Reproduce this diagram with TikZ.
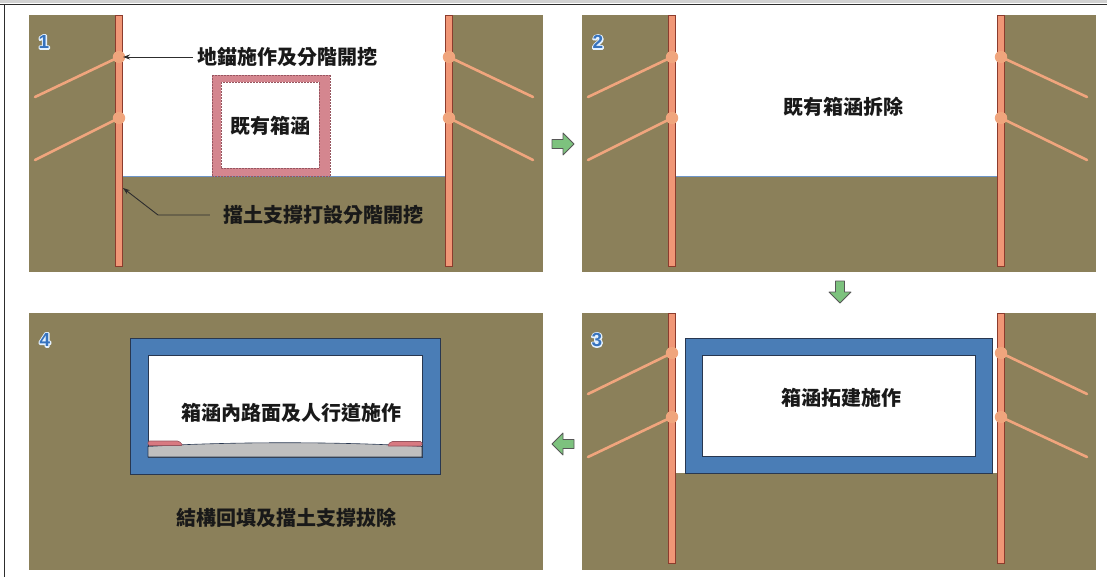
\documentclass[tikz,border=0pt]{standalone}
\usepackage{fontspec}
\newfontfamily\cjk{Noto Sans CJK TC}
\newfontfamily\numfont{Liberation Sans}
\usetikzlibrary{arrows.meta}
\definecolor{soilc}{RGB}{139,128,90}
\definecolor{wallc}{RGB}{240,150,118}
\definecolor{walledge}{RGB}{140,60,45}
\definecolor{anchorc}{RGB}{240,165,125}
\definecolor{boxblue}{RGB}{74,125,182}
\definecolor{boxedge}{RGB}{40,55,80}
\definecolor{oldbox}{RGB}{212,134,143}
\definecolor{oldedge}{RGB}{150,85,95}
\definecolor{arrowgreen}{RGB}{125,194,126}
\definecolor{digitblue}{RGB}{55,115,190}
\definecolor{grounde}{RGB}{110,150,200}
\definecolor{textc}{RGB}{25,25,25}
\definecolor{leadc}{RGB}{45,45,45}
\tikzset{
  soil/.style={fill=soilc},
  wall/.style={fill=wallc, draw=walledge, line width=0.8pt},
  tieback/.style={draw=anchorc, line width=2.6pt, line cap=round},
  knob/.style={fill=anchorc},
  culvert/.style={fill=boxblue, draw=boxedge, line width=1pt},
  hollow/.style={fill=white, draw=boxedge, line width=0.9pt},
  label/.style={font=\cjk\bfseries\fontsize{20}{20}\selectfont, text=textc, inner sep=0pt},
  stepmark/.style={font=\numfont\bfseries\fontsize{19}{19}\selectfont, text=digitblue, inner sep=0pt},
  leader/.style={draw=leadc, line width=0.9pt, -{Stealth[length=7pt,width=5pt]}},
  garrow/.pic={\draw[fill=arrowgreen, draw=leadc!80, line width=0.8pt, line join=round]
     (-11,-4.5) -- (0,-4.5) -- (0,-11) -- (11,0) -- (0,11) -- (0,4.5) -- (-11,4.5) -- cycle;},
}
% step number: light stroked rim under a blue filled digit
\newcommand{\haloed}[1]{%
  \rlap{\special{pdf:literal direct q 1 Tr 0.9 0.95 1 RG 2.6 w 1 j}#1\special{pdf:literal direct Q}}#1}
% retaining wall with two tiebacks; #1 wall x, #2 top, #3 bottom, #4/#5 anchor y, #6 tieback end x, #7/#8 tieback end y
\newcommand{\retwall}[8]{%
  \draw[tieback] (#1,#4) -- (#6,#7);
  \draw[tieback] (#1,#5) -- (#6,#8);
  \draw[wall] (#1-3.5,#2) rectangle (#1+3.5,#3);
  \fill[knob] (#1,#4) circle (6.2);
  \fill[knob] (#1,#5) circle (6.2);}
\begin{document}
\begin{tikzpicture}[x=1pt,y=-1pt]
\useasboundingbox (0,0) rectangle (1107,577);
\fill[white] (0,0) rectangle (1107,577);
% outer frame
\fill[gray!35] (0,0) rectangle (1107,3.5);
\draw[leadc, line width=1.6pt] (0,4.5) -- (1107,4.5);
\draw[leadc, line width=1.6pt] (4.5,4.5) -- (4.5,577);

% ---------- stage 1 ----------
\fill[soil] (29,15) rectangle (543,272);
\fill[white] (119,15) rectangle (449,176);
\draw[grounde, line width=0.7pt] (119,176) -- (449,176);
\draw[fill=oldbox, draw=oldedge, densely dotted, line width=0.5pt] (212,75) rectangle (330,176);
\draw[fill=white, draw=oldedge, densely dotted, line width=0.5pt] (221,82) rectangle (319,168);
\node[label] (old) at (270,126) {既有箱涵};
\retwall{119}{15}{266}{57}{118}{35}{97}{160}
\retwall{449}{15}{266}{57}{118}{533}{97}{160}
\node[label] (anc) at (287,57) {地錨施作及分階開挖};
\coordinate (ancTip) at (123,57);
\draw[leader] (anc.west) ++(-4,0) -- (ancTip);
\node[label] (sheet) at (323,215) {擋土支撐打設分階開挖};
\coordinate (sheetBend) at (158,215);
\coordinate (sheetTip) at (123,188);
\draw[leader] ([xshift=-13pt]sheet.west) -- (sheetBend) -- (sheetTip);
\node[stepmark] (n1) at (44,42) {\haloed{1}};

% ---------- stage 2 ----------
\fill[soil] (582,15) rectangle (1096,272);
\fill[white] (672,15) rectangle (1001,176);
\draw[grounde, line width=0.7pt] (672,176) -- (1001,176);
\node[label] (demo) at (843,107) {既有箱涵拆除};
\retwall{672}{15}{266}{57}{118}{588}{97}{160}
\retwall{1001}{15}{266}{57}{118}{1087}{97}{160}
\node[stepmark] (n2) at (598,42) {\haloed{2}};

% ---------- stage 3 ----------
\fill[soil] (582,313) rectangle (1096,570);
\fill[white] (672,313) rectangle (1001,473);
\draw[culvert] (685,338) rectangle (992,473);
\draw[hollow] (702,355) rectangle (975,456);
\node[label] (build) at (841,398) {箱涵拓建施作};
\retwall{672}{313}{563}{353}{417}{588}{394}{457}
\retwall{1001}{313}{563}{353}{417}{1087}{394}{457}
\node[stepmark] (n3) at (597,340) {\haloed{3}};

% ---------- stage 4 ----------
\fill[soil] (29,313) rectangle (543,570);
\draw[culvert] (130,338) rectangle (440,474);
\draw[hollow] (148,355) rectangle (422,457);
% road pavement with a slight crown
\draw[fill=gray!50, draw=boxedge, line width=0.6pt]
  (148,446.5) .. controls (230,441.5) and (340,441.5) .. (422,446.5) -- (422,457) -- (148,457) -- cycle;
% sidewalk strips
\draw[fill=oldbox!90!red, draw=oldedge, line width=0.6pt, rounded corners=1.5pt]
  (148,441) -- (179,441) -- (183,445.5) -- (148,445.5) -- cycle;
\draw[fill=oldbox!90!red, draw=oldedge, line width=0.6pt, rounded corners=1.5pt]
  (422,441.5) -- (391,441.5) -- (387,446) -- (422,446) -- cycle;
\node[label] (pave) at (291,413) {箱涵內路面及人行道施作};
\node[label] (fill) at (286,518) {結構回填及擋土支撐拔除};
\node[stepmark] (n4) at (45,340) {\haloed{4}};

% ---------- sequence arrows ----------
\pic at (563,144) {garrow};
\pic[rotate=-90] at (840,292) {garrow};
\pic[rotate=180] at (563,444) {garrow};
\end{tikzpicture}
\end{document}
